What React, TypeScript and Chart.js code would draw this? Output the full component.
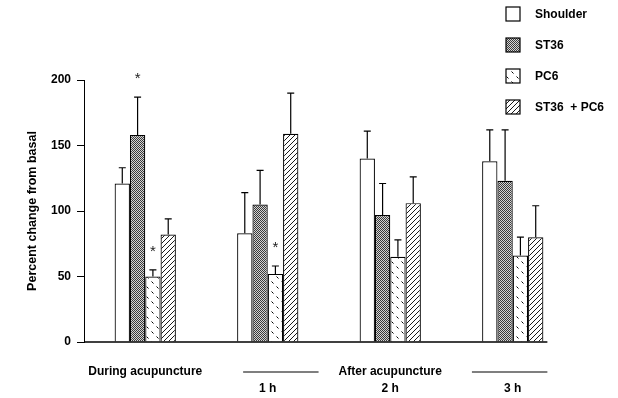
import React, { useEffect, useRef } from 'react';
import { Chart, registerables } from 'chart.js';

Chart.register(...registerables);

// ---- data ----
const categoryLabels: string[][] = [
  ['During acupuncture'],
  ['', '1 h'],
  ['After acupuncture', '2 h'],
  ['', '3 h'],
];
const seriesNames = ['Shoulder', 'ST36', 'PC6', 'ST36  + PC6'];
const shoulderValues = [121, 83, 140, 138];
const st36Values = [158, 105, 97, 123];
const pc6Values = [50, 52, 65, 66];
const comboValues = [82, 159, 106, 80];
// upward error (SEM)
const shoulderErr = [12, 31, 21, 24];
const st36Err = [29, 26, 24, 39];
const pc6Err = [5, 6, 13, 14];
const comboErr = [12, 31, 20, 24];
// significance markers
const shoulderSig = [false, false, false, false];
const st36Sig = [true, false, false, false];
const pc6Sig = [true, true, false, false];
const comboSig = [false, false, false, false];
const yTicks = [0, 50, 100, 150, 200];

const FONT = "'Liberation Sans', Arial, Helvetica, sans-serif";

function makePattern(kind: string): CanvasPattern | string {
  const c = document.createElement('canvas');
  const g = c.getContext('2d');
  if (!g) return '#fff';
  if (kind === 'check') {
    c.width = 2; c.height = 2;
    g.fillStyle = '#d4d4d4'; g.fillRect(0, 0, 2, 2);
    g.fillStyle = '#3a3a3a'; g.fillRect(0, 0, 1, 1); g.fillRect(1, 1, 1, 1);
  } else if (kind === 'dash') {
    c.width = 10; c.height = 10;
    g.fillStyle = '#fff'; g.fillRect(0, 0, 10, 10);
    g.strokeStyle = '#000'; g.lineWidth = 1;
    g.beginPath();
    g.moveTo(1.5, 1.5); g.lineTo(3.5, 3.5);
    g.moveTo(6.5, 6.5); g.lineTo(8.5, 8.5);
    g.stroke();
  } else {
    c.width = 5; c.height = 5;
    g.fillStyle = '#fff'; g.fillRect(0, 0, 5, 5);
    g.strokeStyle = '#000'; g.lineWidth = 0.9;
    g.beginPath();
    g.moveTo(0, 5); g.lineTo(5, 0);
    g.moveTo(-1, 1); g.lineTo(1, -1);
    g.moveTo(4, 6); g.lineTo(6, 4);
    g.stroke();
  }
  return g.createPattern(c, 'repeat') || '#fff';
}

export default function App() {
  const ref = useRef<HTMLCanvasElement | null>(null);

  useEffect(() => {
    if (!ref.current) return;
    const fills = ['#ffffff', makePattern('check'), makePattern('dash'), makePattern('hatch')];
    const values = [shoulderValues, st36Values, pc6Values, comboValues];
    const errs = [shoulderErr, st36Err, pc6Err, comboErr];
    const sigs = [shoulderSig, st36Sig, pc6Sig, comboSig];

    const overlay = {
      id: 'overlay',
      afterDatasetsDraw(chart: any) {
        const ctx = chart.ctx as CanvasRenderingContext2D;
        const yScale = chart.scales.y;
        const area = chart.chartArea;
        ctx.save();
        // baseline
        let lastRight = area.left;
        chart.data.datasets.forEach((_ds: any, di: number) => {
          const meta = chart.getDatasetMeta(di);
          meta.data.forEach((bar: any) => {
            const r = bar.x + bar.width / 2;
            if (r > lastRight) lastRight = r;
          });
        });
        const baseY = yScale.getPixelForValue(0);
        ctx.strokeStyle = '#000';
        ctx.lineWidth = 1.3;
        ctx.beginPath();
        ctx.moveTo(area.left, baseY);
        ctx.lineTo(lastRight + 4, baseY);
        ctx.stroke();

        // error bars + asterisks
        ctx.lineWidth = 1.2;
        chart.data.datasets.forEach((_ds: any, di: number) => {
          const meta = chart.getDatasetMeta(di);
          meta.data.forEach((bar: any, i: number) => {
            const v = values[di][i];
            const top = yScale.getPixelForValue(v + errs[di][i]);
            ctx.beginPath();
            ctx.moveTo(bar.x, bar.y);
            ctx.lineTo(bar.x, top);
            ctx.moveTo(bar.x - 3.5, top);
            ctx.lineTo(bar.x + 3.5, top);
            ctx.stroke();
            if (sigs[di][i]) {
              ctx.fillStyle = '#222';
              ctx.font = `15px ${FONT}`;
              ctx.textAlign = 'center';
              ctx.textBaseline = 'middle';
              ctx.fillText('*', bar.x, top - 18);
            }
          });
        });

        // bracket lines around "After acupuncture"
        const xScale = chart.scales.x;
        ctx.font = `bold 12px ${FONT}`;
        const txt = categoryLabels[2][0];
        const w = ctx.measureText(txt).width;
        const cx = xScale.getPixelForValue(2);
        const meta1 = chart.getDatasetMeta(0);
        const g2Left = meta1.data[1].x - meta1.data[1].width / 2;
        const lineY = baseY + 30;
        ctx.lineWidth = 1.2;
        ctx.beginPath();
        ctx.moveTo(g2Left + 6, lineY);
        ctx.lineTo(cx - w / 2 - 20, lineY);
        ctx.moveTo(cx + w / 2 + 30, lineY);
        ctx.lineTo(lastRight + 4, lineY);
        ctx.stroke();

        // legend
        ctx.textAlign = 'left';
        ctx.textBaseline = 'middle';
        seriesNames.forEach((name, di) => {
          const bx = 506;
          const by = 7 + di * 31;
          ctx.fillStyle = fills[di] as any;
          ctx.fillRect(bx, by, 14, 14);
          ctx.strokeStyle = '#000';
          ctx.lineWidth = 1.2;
          ctx.strokeRect(bx, by, 14, 14);
          ctx.fillStyle = '#000';
          ctx.font = `bold 12px ${FONT}`;
          ctx.fillText(name, 535, by + 7.5);
        });
        ctx.restore();
      },
    };

    const chart = new Chart(ref.current, {
      type: 'bar',
      data: {
        labels: categoryLabels as any,
        datasets: seriesNames.map((name, di) => ({
          label: name,
          data: values[di],
          backgroundColor: fills[di] as any,
          borderColor: '#000',
          borderWidth: 1.2,
          borderSkipped: 'start',
          barPercentage: 1,
          categoryPercentage: 0.5,
        })),
      },
      options: {
        animation: false,
        responsive: true,
        maintainAspectRatio: false,
        layout: { padding: { left: 24, top: 80, right: 44, bottom: 0 } },
        plugins: { legend: { display: false }, tooltip: { enabled: false } },
        scales: {
          x: {
            offset: true,
            afterFit: (scale: any) => {
              scale.height = 56;
            },
            grid: { display: false, drawTicks: false },
            border: { display: false },
            ticks: {
              color: '#000',
              font: { family: FONT, size: 12, weight: 'bold', lineHeight: 1.42 },
              padding: 21,
              maxRotation: 0,
              autoSkip: false,
            },
          },
          y: {
            min: 0,
            max: 200,
            afterFit: (scale: any) => {
              scale.width = 60;
            },
            afterBuildTicks: (scale: any) => {
              scale.ticks = yTicks.map((v) => ({ value: v }));
            },
            ticks: {
              color: '#000',
              font: { family: FONT, size: 12, weight: 'bold' },
              padding: 6,
            },
            grid: {
              display: true,
              drawOnChartArea: false,
              drawTicks: true,
              tickLength: 7,
              tickColor: '#000',
              tickWidth: 1,
            },
            border: { display: true, color: '#000', width: 1 },
            title: {
              display: true,
              text: 'Percent change from basal',
              color: '#000',
              font: { family: FONT, size: 12.5, weight: 'bold' },
              padding: { top: 1, bottom: 11 },
            },
          },
        },
      },
      plugins: [overlay],
    });
    return () => chart.destroy();
  }, []);

  return (
    <div style={{ position: 'fixed', left: 0, top: 0, width: 618, height: 398, background: '#fff' }}>
      <canvas ref={ref} />
    </div>
  );
}
